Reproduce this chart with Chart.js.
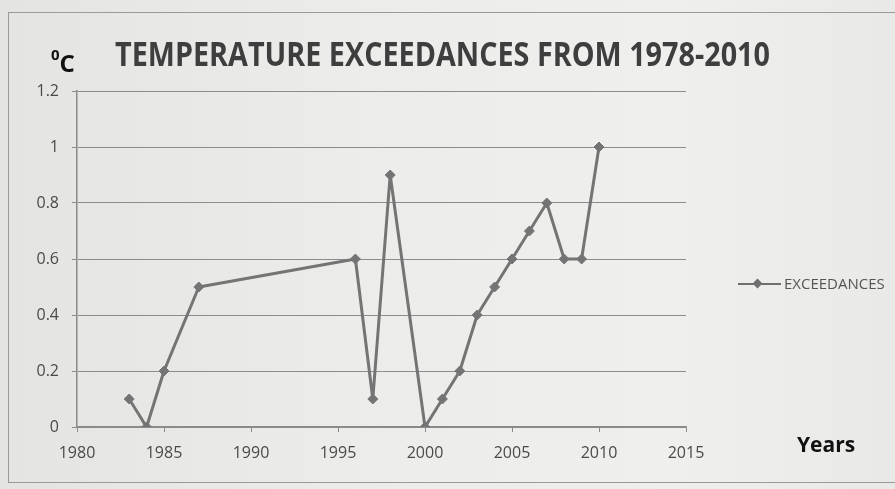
<!DOCTYPE html>
<html>
<head>
<meta charset="utf-8">
<script src="https://cdn.jsdelivr.net/npm/chart.js@4.4.1/dist/chart.umd.min.js"></script>
<style>
  html, body { margin: 0; padding: 0; background: #e9e9e7; }
  #wrap { position: relative; width: 895px; height: 489px; overflow: hidden;
          background: linear-gradient(90deg, #e4e4e2 0%, #ececea 40%, #efefed 75%, #e9e9e7 100%); }
  #frame { position: absolute; left: 8px; top: 12px; width: 900px; height: 469px;
           border: 1px solid #9a9a9a; border-right: none; }
  canvas { position: absolute; left: 0; top: 0; }
  .txt { position: absolute; white-space: nowrap; font-family: "Open Sans", sans-serif; }
  #title { left: 115px; top: 36px; font-size: 34px; font-weight: 700; color: #3e3e3e;
           transform-origin: 0 0; line-height: 1; }
  #unit { left: 51px; top: 50px; font-size: 24px; font-weight: 700; color: #111; line-height: 1; }
  #unit sup { font-size: 15px; position: relative; top: -3px; }
  #years { left: 797px; top: 434px; font-size: 21px; font-weight: 700; color: #111; line-height: 1; }
  #legend { left: 738px; top: 276px; font-size: 15px; color: #555; line-height: 1;
            font-family: "Liberation Sans Narrow", "Open Sans", sans-serif; display: flex; align-items: center; }
  #legend .sw { position: relative; width: 43px; height: 12px; margin-right: 3px; }
  #legend .sw i { position: absolute; left: 0; right: 0; top: 5px; height: 2px; background: #6f6f6f; }
  #legend .sw b { position: absolute; left: 16px; top: 2px; width: 7px; height: 7px; background: #6f6f6f;
                  transform: rotate(45deg); }
</style>
</head>
<body>
<div id="wrap">
  <div id="frame"></div>
  <canvas id="chart" width="895" height="489"></canvas>
  <div class="txt" id="unit"><sup>0</sup>C</div>
  <div class="txt" id="title">TEMPERATURE EXCEEDANCES FROM 1978-2010</div>
  <div class="txt" id="legend"><span class="sw"><i></i><b></b></span><span id="legendText"></span></div>
  <div class="txt" id="years">Years</div>
</div>
<script>
// data
const seriesName = "EXCEEDANCES";
const years = [1983, 1984, 1985, 1987, 1996, 1997, 1998, 2000, 2001, 2002, 2003, 2004, 2005, 2006, 2007, 2008, 2009, 2010];
const exceedances = [0.1, 0, 0.2, 0.5, 0.6, 0.1, 0.9, 0, 0.1, 0.2, 0.4, 0.5, 0.6, 0.7, 0.8, 0.6, 0.6, 1.0];
const xTicks = [1980, 1985, 1990, 1995, 2000, 2005, 2010, 2015];
const yTicks = [0, 0.2, 0.4, 0.6, 0.8, 1, 1.2];

// title squeezed to the width of the original (narrow bold face)
(function () {
  const t = document.getElementById("title");
  const w = t.getBoundingClientRect().width;
  t.style.transform = "scaleX(" + (655 / w) + ")";
})();
document.getElementById("legendText").textContent = seriesName;

const lineGrey = "#747474";
const tickFont = { family: "'Liberation Sans Narrow', 'Open Sans', sans-serif", size: 16 };

new Chart(document.getElementById("chart").getContext("2d"), {
  type: "line",
  data: {
    datasets: [{
      label: seriesName,
      data: years.map((y, i) => ({ x: y, y: exceedances[i] })),
      borderColor: lineGrey,
      backgroundColor: lineGrey,
      borderWidth: 3,
      borderJoinStyle: "round",
      pointStyle: "rectRot",
      pointRadius: 5,
      pointBorderWidth: 1,
      tension: 0
    }]
  },
  options: {
    responsive: false,
    animation: false,
    layout: { padding: { left: 18, top: 91, right: 209, bottom: 30 } },
    plugins: { legend: { display: false }, tooltip: { enabled: false } },
    scales: {
      x: {
        type: "linear",
        min: xTicks[0],
        max: xTicks[xTicks.length - 1],
        afterBuildTicks: (s) => { s.ticks = xTicks.map(v => ({ value: v })); },
        afterFit: (s) => { s.height = 32; },
        grid: { drawOnChartArea: false, drawTicks: true, tickLength: 5, color: "#8a8a8a" },
        border: { color: "#8a8a8a", width: 1.5 },
        ticks: { color: "#4a4a4a", font: tickFont, padding: 12, maxRotation: 0,
                 callback: (v) => String(v) }
      },
      y: {
        min: 0,
        max: 1.2,
        afterBuildTicks: (s) => { s.ticks = yTicks.map(v => ({ value: v })); },
        afterFit: (s) => { s.width = 59; },
        grid: { color: "#8c8c8c", lineWidth: 1, tickLength: 5 },
        border: { color: "#8a8a8a", width: 1.5 },
        ticks: { color: "#4a4a4a", font: tickFont, padding: 13,
                 callback: (v) => String(Math.round(v * 10) / 10) }
      }
    }
  }
});
</script>
</body>
</html>
